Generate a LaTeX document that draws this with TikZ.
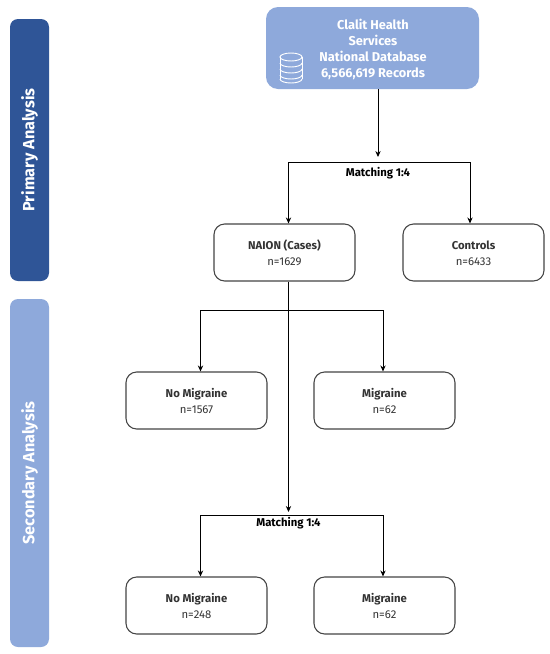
\documentclass[tikz,border=0pt]{standalone}
\usepackage{fontspec}
\setmainfont{Fira Sans}
\usetikzlibrary{arrows.meta,calc}
\definecolor{dbblue}{HTML}{8EA9DB}
\definecolor{darkblue}{HTML}{2F5597}
\definecolor{linegray}{HTML}{444444}
\newcommand{\tstrut}{\rule{0pt}{8pt}}
\tikzset{
  px/.style={x=0.75pt,y=-0.75pt},
  band/.style={draw=none,rounded corners=6pt,minimum width=29.25pt,text=white},
  bandlabel/.style={rotate=90,text=white,font=\bfseries\fontsize{12.2}{14}\selectfont,inner sep=0pt},
  result/.style={draw=linegray,line width=0.8pt,fill=white,rounded corners=8pt,minimum width=105.75pt,minimum height=42.75pt,align=center,font=\fontsize{8.5}{12}\selectfont,text=black!80},
  conn/.style={line width=0.7pt,draw=black},
  arr/.style={conn,-{Stealth[length=4.5pt,width=4pt]}},
  lbl/.style={font=\bfseries\fontsize{8.5}{10}\selectfont,inner sep=1pt}
}
\begin{document}
\begin{tikzpicture}[px]
\useasboundingbox (0,0) rectangle (550,654);
\node[band,fill=darkblue,minimum height=196.5pt] (primary) at (29.5,150) {};
\node[bandlabel] (primarylabel) at (primary.center) {Primary Analysis};
\node[band,fill=dbblue,minimum height=261pt] (secondary) at (29.5,473) {};
\node[bandlabel] (secondarylabel) at (secondary.center) {Secondary Analysis};
\node[draw=none,fill=dbblue,rounded corners=9pt,minimum width=159.75pt,minimum height=61.5pt,inner sep=0pt] (db) at (372.5,48) {};
\node[align=center,text=white,font=\bfseries\fontsize{9.6}{12}\selectfont,inner sep=0pt] (dbtext) at (373,49.5) {Clalit Health\\Services\\National Database\\6,566,619 Records};
% database icon
\begin{scope}[white,line width=0.7pt,shift={(291,68)}]
\draw (-11,-11) -- (-11,11) (11,-11) -- (11,11);
\draw (0,-11) ellipse [x radius=11,y radius=4];
\draw (-11,-5) arc[start angle=180,end angle=360,x radius=11,y radius=-4];
\draw (-11,1) arc[start angle=180,end angle=360,x radius=11,y radius=-4];
\draw (-11,7) arc[start angle=180,end angle=360,x radius=11,y radius=-4];
\draw (-11,11) arc[start angle=180,end angle=360,x radius=11,y radius=-4];
\end{scope}
\node[result] (naion) at (284.5,252.5) {\tstrut\textbf{NAION (Cases)}\\n=1629};
\node[result] (controls) at (473.5,252.5) {\tstrut\textbf{Controls}\\n=6433};
\node[result] (nomig1) at (196.5,400.5) {\tstrut\textbf{No Migraine}\\n=1567};
\node[result] (mig1) at (384.5,400.5) {\tstrut\textbf{Migraine}\\n=62};
\node[result] (nomig2) at (196.5,605.5) {\tstrut\textbf{No Migraine}\\n=248};
\node[result] (mig2) at (384.5,605.5) {\tstrut\textbf{Migraine}\\n=62};
\node[lbl] (match1) at (378,173) {Matching 1:4};
\node[lbl] (match2) at (288.5,523) {Matching 1:4};
\coordinate (split1) at (378,157);
\coordinate (level1) at (378,162);
\coordinate (split2) at (288.5,310);
\coordinate (split3) at (288.5,512);
\coordinate (level3) at (288.5,515);
\coordinate (aN) at (288.5,224);
\coordinate (aC) at (470,224);
\coordinate (a1) at (200.5,372);
\coordinate (a2) at (383,372);
\coordinate (a3) at (200.5,577);
\coordinate (a4) at (383,577);
\draw[arr] (db.south -| split1) -- (split1);
\draw[arr] (aN |- level1) -- (naion.north -| aN);
\draw[conn] (aN |- level1) -- (aC |- level1);
\draw[arr] (aC |- level1) -- (controls.north -| aC);
\draw[arr] (naion.south -| split2) -- (split3);
\draw[conn] (a1 |- split2) -- (a2 |- split2);
\draw[arr] (a1 |- split2) -- (nomig1.north -| a1);
\draw[arr] (a2 |- split2) -- (mig1.north -| a2);
\draw[conn] (a3 |- level3) -- (a4 |- level3);
\draw[arr] (a3 |- level3) -- (nomig2.north -| a3);
\draw[arr] (a4 |- level3) -- (mig2.north -| a4);
\end{tikzpicture}
\end{document}
